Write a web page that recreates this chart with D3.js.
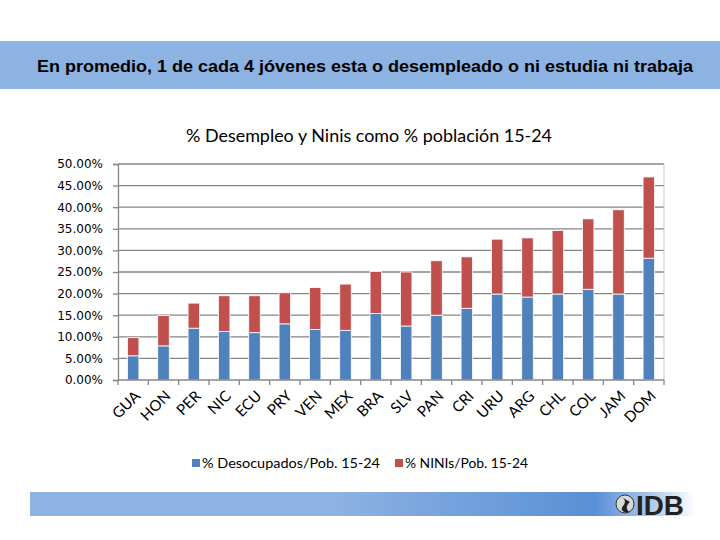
<!DOCTYPE html>
<html><head><meta charset="utf-8">
<script src="https://cdn.jsdelivr.net/npm/d3@7"></script>
<style>body{margin:0;background:#fff}svg{display:block}</style>
</head><body>
<script>
const countries = ["GUA","HON","PER","NIC","ECU","PRY","VEN","MEX","BRA","SLV","PAN","CRI","URU","ARG","CHL","COL","JAM","DOM"];
const desocupados = [5.6,7.9,12.0,11.2,10.95,13.0,11.7,11.5,15.4,12.5,15.0,16.6,19.9,19.2,19.9,21.0,19.9,28.2];
const ninis = [4.2,7.0,5.8,8.3,8.55,7.2,9.7,10.7,9.7,12.5,12.6,11.9,12.7,13.7,14.7,16.3,19.5,18.8];
const yTicks = [0,5,10,15,20,25,30,35,40,45,50];
const seriesNames = ["% Desocupados/Pob. 15-24","% NINIs/Pob. 15-24"];
const colors = ["#4f81bd","#c0504d"];

const W=720,H=540;
const svg=d3.select("body").append("svg").attr("width",W).attr("height",H);
const labelFont="Lato,'Open Sans','Noto Sans',sans-serif";

// header bar
svg.append("rect").attr("x",0).attr("y",41).attr("width",W).attr("height",48).attr("fill","#8db3e2");
svg.append("text").attr("x",365).attr("y",72).attr("text-anchor","middle")
  .attr("font-family","'Liberation Sans Narrow','Arial Narrow','Liberation Sans',Arial,sans-serif")
  .attr("font-weight","bold").attr("font-size",16.5).attr("fill","#000")
  .attr("textLength",656).attr("lengthAdjust","spacingAndGlyphs")
  .text("En promedio, 1 de cada 4 jóvenes esta o desempleado o ni estudia ni trabaja");

// chart title
svg.append("text").attr("x",369).attr("y",142).attr("text-anchor","middle")
  .attr("font-family",labelFont).attr("font-size",16.5).attr("fill","#000")
  .attr("textLength",366).attr("lengthAdjust","spacingAndGlyphs")
  .text("% Desempleo y Ninis como % población 15-24");

const x=d3.scaleBand().domain(countries).range([118,664]).paddingInner(0.62).paddingOuter(0.31);
const y=d3.scaleLinear().domain([0,50]).range([380,164]);

// gridlines
svg.append("g").selectAll("line").data(yTicks.filter(d=>d>0)).join("line")
  .attr("x1",118).attr("x2",664).attr("y1",d=>y(d)).attr("y2",d=>y(d))
  .attr("stroke","#868686").attr("stroke-width",1.3);
// right border
svg.append("line").attr("x1",664).attr("x2",664).attr("y1",164).attr("y2",380).attr("stroke","#b9c9dd").attr("stroke-width",1);

// stacked bars
const data=countries.map((c,i)=>({c,a:desocupados[i],b:ninis[i]}));
const stack=d3.stack().keys(["a","b"])(data);
svg.append("g").selectAll("g").data(stack).join("g").attr("fill",(d,i)=>colors[i])
  .selectAll("rect").data(d=>d).join("rect")
  .attr("x",d=>x(d.data.c)).attr("width",x.bandwidth())
  .attr("y",d=>y(d[1])).attr("height",d=>y(d[0])-y(d[1]))
  .attr("stroke","#fff").attr("stroke-width",0.8);

// y axis
const ya=svg.append("g").attr("transform","translate(118,0)")
  .call(d3.axisLeft(y).tickValues(yTicks).tickSize(5).tickFormat(d=>d.toFixed(2)+"%"));
ya.select(".domain").attr("stroke","#868686").attr("stroke-width",1.3);
ya.selectAll(".tick line").attr("stroke","#868686").attr("stroke-width",1.3);
ya.selectAll("text").attr("font-family","'DejaVu Sans',Verdana,sans-serif").attr("font-size",12).attr("fill","#000").attr("x",-15);

// x axis
const xa=svg.append("g").attr("transform","translate(0,380)");
xa.append("line").attr("x1",118).attr("x2",664).attr("stroke","#868686").attr("stroke-width",1.3);
const edges=d3.range(countries.length+1).map(i=>118+i*x.step());
xa.selectAll("line.t").data(edges).join("line").attr("class","t")
  .attr("x1",d=>d).attr("x2",d=>d).attr("y1",0).attr("y2",5).attr("stroke","#868686").attr("stroke-width",1.3);
xa.selectAll("text").data(countries).join("text")
  .attr("transform",d=>`translate(${x(d)+x.bandwidth()/2+8},${17}) rotate(-45)`)
  .attr("text-anchor","end").attr("font-family",labelFont).attr("font-size",15).attr("fill","#000")
  .text(d=>d);

// legend
const lg=svg.append("g");
const lx=[192,395];
const lw=[178,123];
seriesNames.forEach((n,i)=>{
  lg.append("rect").attr("x",lx[i]).attr("y",459).attr("width",8).attr("height",8).attr("fill",colors[i]);
  lg.append("text").attr("x",lx[i]+10).attr("y",468).attr("font-family",labelFont)
    .attr("font-size",14).attr("fill","#000").attr("textLength",lw[i]).attr("lengthAdjust","spacingAndGlyphs").text(n);
});

// footer bar
const defs=svg.append("defs");
const gr=defs.append("linearGradient").attr("id","fg").attr("x1","0%").attr("x2","100%");
gr.append("stop").attr("offset","0%").attr("stop-color","#8db3e2");
gr.append("stop").attr("offset","45%").attr("stop-color","#8db3e2");
gr.append("stop").attr("offset","85%").attr("stop-color","#5a8fd6");
gr.append("stop").attr("offset","93%").attr("stop-color","#a8c4ea");
gr.append("stop").attr("offset","100%").attr("stop-color","#ffffff");
svg.append("rect").attr("x",30).attr("y",492).attr("width",665).attr("height",24).attr("fill","url(#fg)");
// IDB logo
svg.append("circle").attr("cx",625).attr("cy",504).attr("r",9).attr("fill","#d9d9d9").attr("stroke","#333").attr("stroke-width",1);
svg.append("path").attr("d","M620 496 Q628 500 623 506 Q619 511 627 513 L629 512 Q624 506 630 502 Z").attr("fill","#222");
svg.append("text").attr("x",636).attr("y",515).attr("font-family","'Liberation Sans Narrow','Liberation Sans',Arial,sans-serif")
  .attr("font-weight","bold").attr("font-size",27).attr("fill","#222").attr("textLength",48).attr("lengthAdjust","spacingAndGlyphs").text("IDB");
</script>
</body></html>
